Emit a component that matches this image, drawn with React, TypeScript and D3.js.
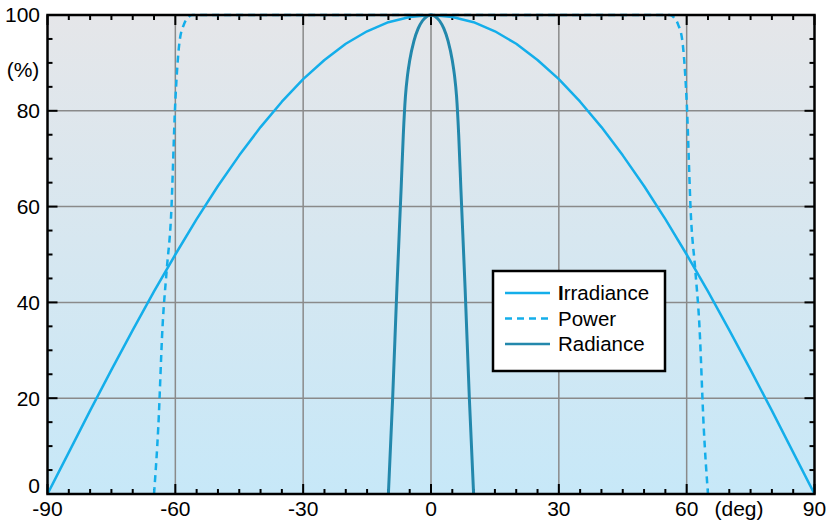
import React from "react";
import * as d3 from "d3";

const irrAngles = [-90, -85, -80, -75, -70, -65, -60, -55, -50, -45, -40, -35, -30, -25, -20, -15, -10, -5, 0, 5, 10, 15, 20, 25, 30, 35, 40, 45, 50, 55, 60, 65, 70, 75, 80, 85, 90];
const irrValues = [0, 8.7, 17.4, 25.9, 34.2, 42.3, 50, 57.4, 64.3, 70.7, 76.6, 81.9, 86.6, 90.6, 94, 96.6, 98.5, 99.6, 100, 99.6, 98.5, 96.6, 94, 90.6, 86.6, 81.9, 76.6, 70.7, 64.3, 57.4, 50, 42.3, 34.2, 25.9, 17.4, 8.7, 0];

const powAngles = [-65, -64, -63, -62, -61, -60, -59, -58, -57, -56, 0, 56, 57, 58, 59, 60, 61, 62, 63, 64, 65];
const powValues = [0, 14, 35, 47, 58, 82, 94.5, 98, 99.5, 100, 100, 100, 99.5, 98, 94.5, 82, 58, 47, 35, 14, 0];

const radAngles = [-10, -9, -8, -7, -6.5, -6, -5.5, -5, -4, -3, -2, -1, 0, 1, 2, 3, 4, 5, 5.5, 6, 6.5, 7, 8, 9, 10];
const radValues = [0, 20, 43, 64, 75, 83, 87.5, 90.5, 94.6, 97.2, 98.8, 99.7, 100, 99.7, 98.8, 97.2, 94.6, 90.5, 87.5, 83, 75, 64, 43, 20, 0];

const xTicks = [-90, -60, -30, 0, 30, 60, 90];
const xTickLabels = ["-90", "-60", "-30", "0", "30", "60", "90"];
const yTicks = [0, 20, 40, 60, 80, 100];
const yTickLabels = ["0", "20", "40", "60", "80", "100"];
const legendNames = ["Irradiance", "Power", "Radiance"];

const W = 833, H = 522;
const L = 47.5, R = 814.5, T = 15, B = 494;
const FONT = "'Liberation Sans', Arial, sans-serif";
const C_LIGHT = "#14aeea";
const C_DARK = "#2388ac";

export default function App() {
  const x = d3.scaleLinear().domain([-90, 90]).range([L, R]);
  const y = d3.scaleLinear().domain([0, 100]).range([B, T]);
  const line = d3.line<[number, number]>().x(d => x(d[0])).y(d => y(d[1]));
  const smooth = d3.line<[number, number]>().x(d => x(d[0])).y(d => y(d[1])).curve(d3.curveMonotoneX);
  const irr = line(irrAngles.map((a, i) => [a, irrValues[i]]))!;
  const powC = smooth(powAngles.map((a, i) => [a, powValues[i]]))!;
  const rad = smooth(radAngles.map((a, i) => [a, radValues[i]]))!;

  const minorX = d3.range(-90, 91, 5);
  const minorY = d3.range(0, 101, 5);

  const legendItems = [
    { name: legendNames[0], color: C_LIGHT, dash: undefined as string | undefined },
    { name: legendNames[1], color: C_LIGHT, dash: "7,5" },
    { name: legendNames[2], color: C_DARK, dash: undefined },
  ];

  return (
    <svg width={W} height={H} style={{ position: "absolute", left: 0, top: 0 }} fontFamily={FONT}>
      <defs>
        <linearGradient id="bg" x1="0" y1="0" x2="0" y2="1">
          <stop offset="0" stopColor="#e5e6e9" />
          <stop offset="1" stopColor="#c7e8f8" />
        </linearGradient>
        <clipPath id="clip">
          <rect x={L} y={T - 3} width={R - L} height={B - T + 3} />
        </clipPath>
      </defs>
      <rect x={0} y={0} width={W} height={H} fill="#fff" />
      <rect x={L} y={T} width={R - L} height={B - T} fill="url(#bg)" />
      {xTicks.slice(1, -1).map(v => (
        <line key={"gx" + v} x1={x(v)} x2={x(v)} y1={T} y2={B} stroke="#8a8a8a" strokeWidth={1.5} />
      ))}
      {yTicks.slice(1, -1).map(v => (
        <line key={"gy" + v} x1={L} x2={R} y1={y(v)} y2={y(v)} stroke="#8a8a8a" strokeWidth={1.5} />
      ))}
      {minorX.map(v => {
        const major = v % 30 === 0;
        const len = major ? 10 : 5;
        return (
          <g key={"tx" + v}>
            <line x1={x(v)} x2={x(v)} y1={B} y2={B - len} stroke="#000" strokeWidth={2} />
            <line x1={x(v)} x2={x(v)} y1={T} y2={T + len} stroke="#000" strokeWidth={2} />
          </g>
        );
      })}
      {minorY.map(v => {
        const major = v % 20 === 0;
        const len = major ? 10 : 5;
        return (
          <g key={"ty" + v}>
            <line x1={L} x2={L + len} y1={y(v)} y2={y(v)} stroke="#000" strokeWidth={2} />
            <line x1={R} x2={R - len} y1={y(v)} y2={y(v)} stroke="#000" strokeWidth={2} />
          </g>
        );
      })}
      <g clipPath="url(#clip)">
        <path d={irr} fill="none" stroke={C_LIGHT} strokeWidth={2.5} strokeLinejoin="round" />
        <path d={powC} fill="none" stroke={C_LIGHT} strokeWidth={2.5} strokeDasharray="7,5" />
        <path d={rad} fill="none" stroke={C_DARK} strokeWidth={3} />
      </g>
      <rect x={L} y={T} width={R - L} height={B - T} fill="none" stroke="#000" strokeWidth={2.5} />
      {yTicks.map((v, i) => (
        <text key={"yl" + v} x={40} y={v === 0 ? y(v) - 8 : y(v)} dy="0.35em" textAnchor="end" fontSize={21} fill="#000">{yTickLabels[i]}</text>
      ))}
      <text x={23} y={70} dy="0.35em" textAnchor="middle" fontSize={21} fill="#000">(%)</text>
      {xTicks.map((v, i) => (
        <text key={"xl" + v} x={x(v)} y={509} dy="0.35em" textAnchor="middle" fontSize={21} fill="#000">{xTickLabels[i]}</text>
      ))}
      <text x={739} y={509} dy="0.35em" textAnchor="middle" fontSize={21} fill="#000">(deg)</text>
      <g>
        <rect x={493} y={271} width={172} height={100} fill="#fff" stroke="#000" strokeWidth={2.5} />
        {legendItems.map((it, i) => {
          const ly = 293 + i * 25.5;
          return (
            <g key={it.name}>
              <line x1={505} x2={550} y1={ly} y2={ly} stroke={it.color} strokeWidth={2.5} strokeDasharray={it.dash} />
              <text x={558} y={ly} dy="0.35em" fontSize={20.5} fill="#000">
                {i === 0 ? <><tspan fontWeight="bold">{it.name[0]}</tspan>{it.name.slice(1)}</> : it.name}
              </text>
            </g>
          );
        })}
      </g>
    </svg>
  );
}
